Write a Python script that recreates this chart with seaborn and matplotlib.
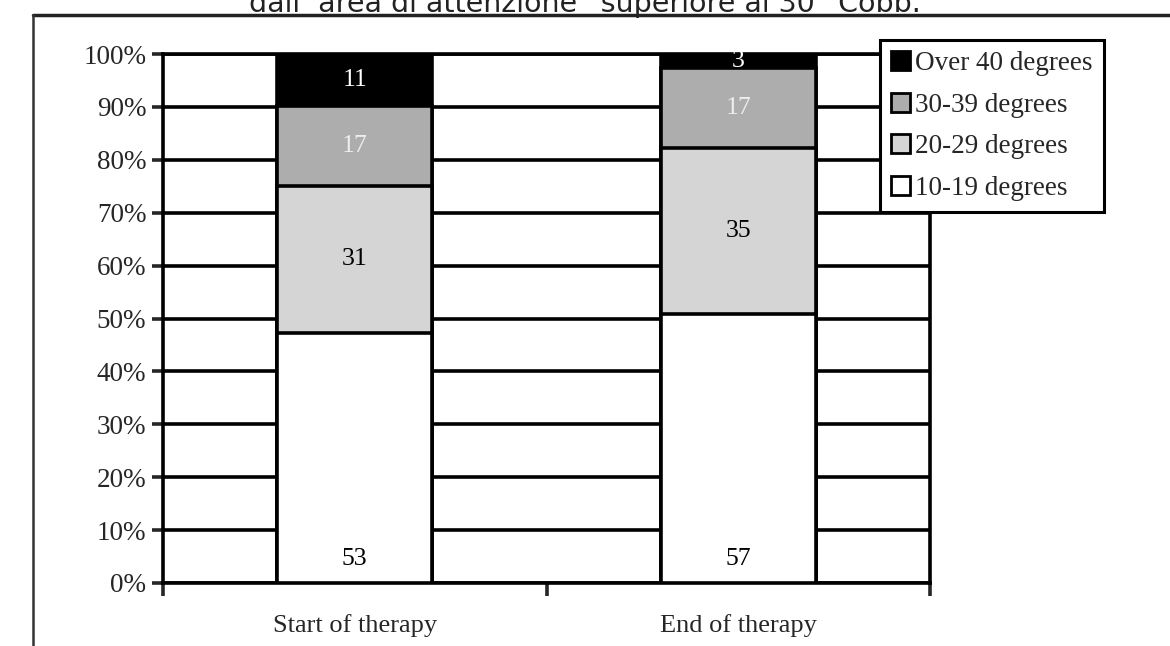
## stacked percentage bars of curve magnitude, start vs end of therapy
import numpy as np
import pandas as pd
import matplotlib
matplotlib.use('Agg')
import matplotlib.pyplot as plt
from matplotlib.patches import Patch
from matplotlib.lines import Line2D
import seaborn as sns

sns.set_theme(style='white')
plt.rcParams['font.family'] = ['Liberation Serif', 'DejaVu Serif']

# data (patient counts per class)
phases = ['Start of therapy', 'End of therapy']
classes = ['10-19 degrees', '20-29 degrees', '30-39 degrees', 'Over 40 degrees']
counts_start = [53, 31, 17, 11]
counts_end = [57, 35, 17, 3]
colors = ['#ffffff', '#d5d5d5', '#adadad', '#000000']
label_colors = ['black', 'black', '#eeeeee', 'white']
yticks = [0, 10, 20, 30, 40, 50, 60, 70, 80, 90, 100]

counts = pd.DataFrame({'Start of therapy': counts_start, 'End of therapy': counts_end}, index=classes)
pct = counts / counts.sum() * 100
cum = pct.cumsum()

fig = plt.figure(figsize=(11.7, 6.46), dpi=100)
ax = fig.add_axes([163 / 1170, 1 - 583 / 646, (930 - 163) / 1170, (583 - 54) / 646])

# grid drawn first, bars on top
ax.set_axisbelow(True)
ax.yaxis.grid(True, color='black', linewidth=2.6)

# overlapping bars: tallest cumulative first
for i in range(len(classes) - 1, -1, -1):
    df = pd.DataFrame({'phase': phases, 'value': cum.iloc[i].values})
    sns.barplot(data=df, x='phase', y='value', color=colors[i], saturation=1,
                edgecolor='black', linewidth=2.6, width=0.405, ax=ax, zorder=3)

# numbers inside the segments
for j, ph in enumerate(phases):
    for i, cl in enumerate(classes):
        lo = cum[ph].iloc[i] - pct[ph].iloc[i]
        hi = cum[ph].iloc[i]
        y = 4.5 if i == 0 else (lo + hi) / 2
        ax.text(j, y, str(counts[ph].iloc[i]), ha='center', va='center',
                fontsize=18.5, color=label_colors[i], zorder=5)

ax.set_xlim(-0.5, 1.5)
ax.set_ylim(0, 100)
ax.set_yticks(yticks)
ax.set_yticklabels([f'{t}%' for t in yticks])
ax.set_xlabel('')
ax.set_ylabel('')

# ticks on the category boundaries, Excel style
ax.set_xticks([0, 1])
ax.set_xticks([-0.5, 0.5, 1.5], minor=True)
ax.tick_params(axis='x', which='major', length=0, labelsize=19, pad=22)
ax.tick_params(axis='x', which='minor', length=9, width=2.6, direction='out', bottom=True)
ax.tick_params(axis='y', length=8, width=2.6, direction='out', left=True, labelsize=19.5, pad=4)

for side in ['left', 'right', 'bottom', 'top']:
    ax.spines[side].set_color('black')
    ax.spines[side].set_linewidth(2.6)

handles = [Patch(facecolor=colors[i], edgecolor='black', linewidth=2, label=classes[i])
           for i in range(len(classes) - 1, -1, -1)]
leg = fig.legend(handles=handles, loc='upper left', bbox_to_anchor=(880 / 1170, 1 - 40 / 646),
                 fontsize=19.5, frameon=True, fancybox=False, framealpha=1,
                 handlelength=0.7, handleheight=0.7, handletextpad=0.2,
                 borderpad=0.4, labelspacing=0.62, borderaxespad=0)
leg.get_frame().set_edgecolor('black')
leg.get_frame().set_linewidth(2.2)

# outer frame of the cropped page
fig.add_artist(Line2D([33 / 1170, 1], [1 - 14.5 / 646, 1 - 14.5 / 646], color='#222222', linewidth=2.5))
fig.add_artist(Line2D([33 / 1170, 33 / 1170], [0, 1 - 14.5 / 646], color='#333333', linewidth=1.8))

# caption from the page above, cut off at the top in the original too
fig.text(0.5, 1 - 12 / 646, 'dall\u2019 area di attenzione\u201d superiore ai 30\u00b0 Cobb.',
         ha='center', va='baseline', fontsize=20.5, color='#222222', family=['DejaVu Sans'])

fig.savefig('out.png', dpi=100)
